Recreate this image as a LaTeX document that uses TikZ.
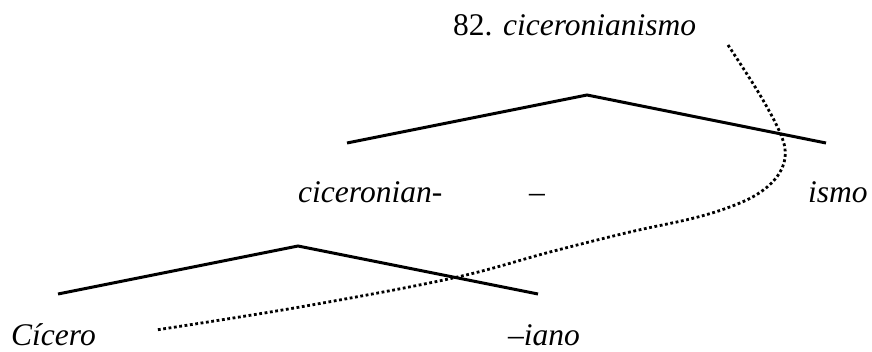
\documentclass[tikz,border=0pt]{standalone}
\usepackage{fontspec}
\setmainfont{Liberation Serif}
\begin{document}
\begin{tikzpicture}[x=1pt,y=-1pt,
  lbl/.style={anchor=base west,inner sep=0pt,font=\fontsize{31.5}{36}\selectfont},
  branch/.style={line width=3pt,line join=miter},
  trace/.style={line width=2.8pt,dash pattern=on 2.8pt off 2.6pt}]
\useasboundingbox (0,0) rectangle (872,352);
% title
\node[lbl] (title) at (453,36) {82. \textit{ciceronianismo}};
% upper tree
\coordinate (ua) at (587,95);
\coordinate (ul) at (347,143);
\coordinate (ur) at (826,143);
\draw[branch] (ul) -- (ua) -- (ur);
\node[lbl] (cic) at (298,203) {\textit{ciceronian-}};
\node[lbl] (dash1) at (529,203) {–};
\node[lbl] (ismo) at (808,203) {\textit{ismo}};
% lower tree
\coordinate (la) at (298,246);
\coordinate (ll) at (58,294);
\coordinate (lr) at (538,294);
\draw[branch] (ll) -- (la) -- (lr);
\node[lbl] (cicero) at (11,345) {\textit{Cícero}};
\node[lbl] (iano) at (508,345) {–\textit{iano}};
% dotted trace
\coordinate (ts) at (728,45);
\coordinate (te) at (156,330);
\draw[trace] plot[smooth,tension=0.6] coordinates {(728,45) (760,95) (781,135) (785,158) (776,178) (756,195) (727,208) (690,219) (630,232) (550,252) (453,278) (300,307) (156,330)};
\end{tikzpicture}
\end{document}
